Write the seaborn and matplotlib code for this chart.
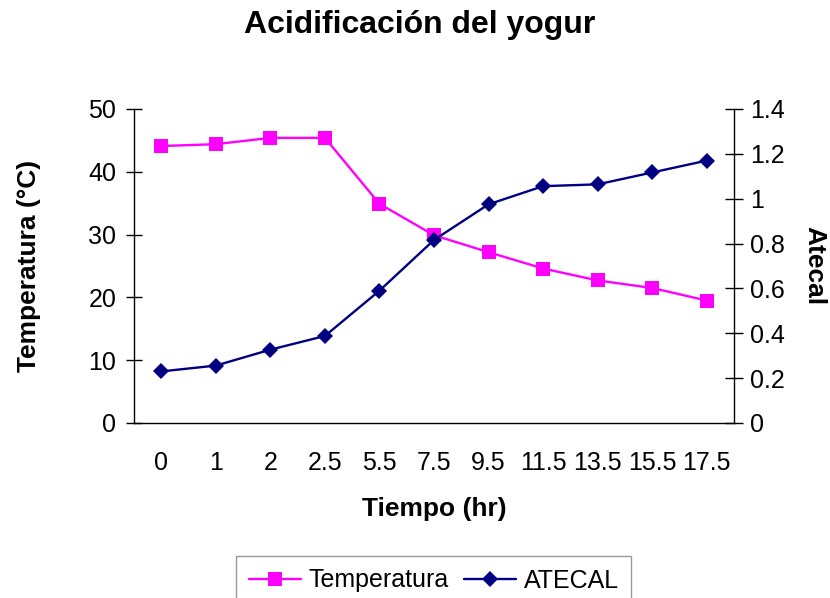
import pandas as pd
import seaborn as sns
import matplotlib.pyplot as plt
from matplotlib.ticker import FixedLocator, NullFormatter

tiempo = ["0", "1", "2", "2.5", "5.5", "7.5", "9.5", "11.5", "13.5", "15.5", "17.5"]
temperatura = [44.1, 44.4, 45.4, 45.4, 34.9, 29.9, 27.2, 24.6, 22.7, 21.5, 19.5]
atecal = [0.23, 0.256, 0.327, 0.388, 0.59, 0.816, 0.975, 1.056, 1.064, 1.117, 1.17]

df = pd.DataFrame({"pos": range(len(tiempo)), "tiempo": tiempo,
                   "Temperatura": temperatura, "ATECAL": atecal})

sns.set_style("white")
plt.rcParams['font.family'] = ['Liberation Sans', 'DejaVu Sans']
plt.rcParams.update({"text.color": "black", "axes.labelcolor": "black",
                     "xtick.color": "black", "ytick.color": "black"})

fig = plt.figure(figsize=(8.3, 5.98), dpi=100)
ax = fig.add_axes([134 / 830, 1 - 423 / 598, 600 / 830, 314 / 598])
ax2 = ax.twinx()

sns.lineplot(data=df, x="pos", y="Temperatura", ax=ax, color="#FF00FF",
             marker="s", markersize=9.5, markeredgewidth=0, linewidth=1.7,
             label="Temperatura", legend=False)
sns.lineplot(data=df, x="pos", y="ATECAL", ax=ax2, color="#000080",
             marker="D", markersize=8.5, markeredgewidth=0, linewidth=1.7,
             label="ATECAL", legend=False)

fs = 18
ax.set_xlim(-0.5, len(tiempo) - 0.5)
ax.set_ylim(0, 50)
ax2.set_ylim(0, 1.4)
ax.set_yticks(range(0, 51, 10))
ax2.set_yticks([0, 0.2, 0.4, 0.6, 0.8, 1.0, 1.2, 1.4])
ax2.set_yticklabels(["0", "0.2", "0.4", "0.6", "0.8", "1", "1.2", "1.4"])

# category axis: ticks between categories, labels at centers
ax.xaxis.set_major_locator(FixedLocator([i - 0.5 for i in range(len(tiempo) + 1)]))
ax.xaxis.set_major_formatter(NullFormatter())
ax.xaxis.set_minor_locator(FixedLocator(df["pos"]))
ax.set_xticklabels(df["tiempo"], minor=True)
ax.tick_params(axis="x", which="major", direction="inout", length=11.5, width=1, color="black")
ax.tick_params(axis="x", which="minor", length=0, pad=20, labelsize=fs)
ax.tick_params(axis="y", direction="inout", length=11.5, width=1, color="black", pad=7, labelsize=fs, left=True)
ax2.tick_params(axis="y", direction="inout", length=12.5, width=1, color="black", pad=5, labelsize=fs, right=True)

for a in (ax, ax2):
    a.spines["top"].set_visible(False)
    for s in a.spines.values():
        s.set_color("black")
        s.set_linewidth(1)
ax.spines["right"].set_visible(False)
ax2.spines["left"].set_visible(False)
ax2.spines["bottom"].set_visible(False)

ax.set_xlabel("Tiempo (hr)", fontsize=19, fontweight="bold", labelpad=16)
ax.set_ylabel("Temperatura (°C)", fontsize=19, fontweight="bold", labelpad=34)
ax2.set_ylabel("Atecal", fontsize=19, fontweight="bold", rotation=270, labelpad=30)
fig.suptitle("Acidificación del yogur", fontsize=23, fontweight="bold", x=420 / 830, y=1 - 10 / 598, va="top")

handles = ax.get_lines()[:1] + ax2.get_lines()[:1]
leg = fig.legend(handles, ["Temperatura", "ATECAL"], loc="upper left",
                 bbox_to_anchor=(236 / 830, 1 - 556 / 598), borderaxespad=0,
                 ncol=2, fontsize=18, frameon=True, fancybox=False,
                 handlelength=2.1, handletextpad=0.3, columnspacing=0.6,
                 borderpad=0.5)
leg.get_frame().set_edgecolor("#808080")
leg.get_frame().set_linewidth(1)

fig.savefig("out.png", dpi=100)
